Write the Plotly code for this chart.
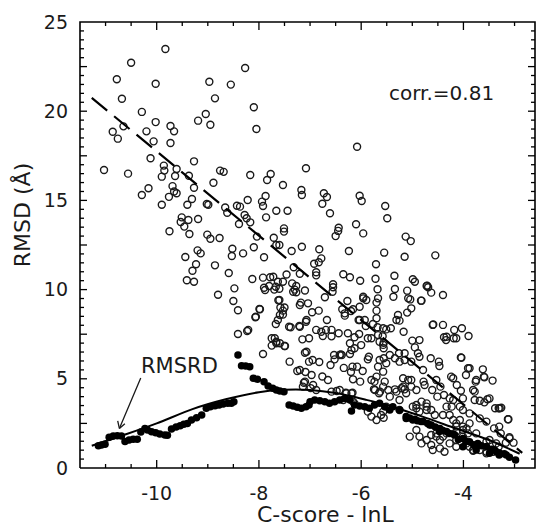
import plotly.graph_objects as go

# ---------------- data ----------------
circles_upper = [
    (-9.83, 23.49), (-10.50, 22.72), (-8.27, 22.42), (-10.78, 21.79), (-10.02, 21.54), (-8.97, 21.65),
    (-8.55, 21.49), (-10.68, 20.7), (-8.86, 20.72), (-8.10, 20.22), (-10.29, 19.96), (-9.04, 19.84),
    (-9.19, 19.47), (-8.95, 19.24), (-10.02, 19.39), (-10.65, 19.15), (-9.73, 19.17), (-9.66, 18.87),
    (-10.2, 18.87), (-10.86, 18.85), (-10.76, 18.46), (-10.06, 18.31), (-9.73, 18.22), (-8.05, 19.0),
    (-6.08, 18.01), (-10.12, 17.36), (-9.27, 17.19), (-11.03, 16.7), (-10.56, 16.5), (-9.86, 16.95),
    (-9.85, 16.67), (-9.61, 16.76), (-9.9, 16.33), (-9.64, 16.37), (-9.37, 16.38), (-8.76, 16.67),
    (-8.69, 16.6), (-8.89, 15.99), (-9.27, 15.71), (-9.69, 15.8), (-9.66, 15.5), (-9.61, 15.4),
    (-10.16, 15.68), (-10.29, 15.3), (-9.76, 15.2), (-9.31, 15.08), (-7.08, 16.8), (-8.17, 16.42),
    (-7.77, 16.48), (-7.84, 16.14), (-7.53, 15.86), (-7.17, 15.58), (-7.16, 15.3), (-6.73, 15.4),
    (-6.67, 15.19), (-6.76, 14.81), (-6.61, 14.28), (-6.03, 15.26), (-5.99, 14.97), (-5.53, 14.69),
    (-5.49, 14.0), (-8.22, 15.02), (-7.94, 14.93), (-7.92, 14.69), (-7.87, 15.25), (-8.37, 14.65),
    (-8.28, 14.18), (-8.24, 14.0), (-8.17, 13.77), (-7.86, 14.05), (-7.66, 14.42), (-7.44, 14.42),
    (-7.51, 13.43), (-6.44, 13.47), (-6.1, 13.66), (-9.9, 14.76), (-9.4, 14.76), (-8.99, 14.76),
    (-8.66, 14.6), (-8.62, 14.31), (-8.43, 14.7), (-9.51, 14.05), (-9.53, 13.79), (-9.46, 13.53),
    (-9.38, 13.9), (-9.19, 13.96), (-9.75, 13.27), (-9.36, 13.12), (-9.01, 13.08), (-8.95, 12.85),
    (-8.77, 12.89), (-8.39, 13.68), (-8.04, 12.97), (-7.71, 12.91), (-7.66, 12.5), (-7.6, 12.5),
    (-7.51, 13.25), (-6.5, 13.0), (-6.45, 13.29), (-5.96, 13.15), (-5.13, 12.97), (-5.03, 12.72),
    (-8.1, 12.37), (-7.36, 12.16), (-7.16, 12.4), (-6.82, 12.26), (-6.24, 12.16), (-5.55, 12.07),
    (-9.2, 12.2), (-9.14, 12.03), (-8.52, 12.29), (-9.02, 14.8),
]

circles_middle = [
    (-9.44, 11.83), (-8.53, 11.88), (-9.23, 11.42), (-8.86, 11.36), (-9.3, 11.06), (-8.59, 10.93),
    (-9.41, 10.52), (-9.27, 10.44), (-8.48, 10.07), (-8.8, 9.71), (-8.5, 9.36), (-8.41, 8.84),
    (-8.41, 7.51), (-8.23, 7.68), (-8.06, 8.48), (-7.98, 8.9), (-7.92, 6.39), (-7.75, 7.27),
    (-7.66, 7.08), (-7.59, 6.99), (-7.5, 6.84), (-7.62, 9.4), (-7.58, 9.0), (-7.53, 8.6),
    (-7.4, 5.96), (-7.2, 5.49), (-7.1, 4.84), (-7.07, 6.52), (-7.02, 5.96), (-7.21, 7.96),
    (-7.08, 8.2), (-7.15, 7.21), (-7.04, 9.23), (-7.9, 10.1), (-7.7, 10.0), (-7.6, 10.05),
    (-7.3, 10.0), (-7.1, 9.95), (-8.31, 12.03), (-7.9, 11.81), (-6.92, 11.45), (-6.83, 11.53),
    (-6.78, 11.75), (-7.32, 11.25), (-7.2, 10.89), (-7.46, 10.85), (-7.53, 10.44), (-7.63, 10.44),
    (-7.72, 10.72), (-6.88, 10.97), (-6.88, 10.8), (-6.35, 10.86), (-6.22, 10.69), (-6.02, 10.5),
    (-5.72, 10.61), (-5.71, 11.42), (-8.13, 10.59), (-7.92, 10.67), (-7.78, 10.69), (-7.88, 9.98),
    (-7.8, 10.2), (-7.67, 10.16), (-7.35, 10.35), (-7.27, 10.2), (-7.33, 9.88), (-7.27, 9.85),
    (-6.55, 10.3), (-6.55, 10.13), (-6.56, 9.88), (-6.71, 9.57), (-6.27, 9.36), (-5.96, 9.6),
    (-5.9, 9.42), (-5.7, 9.27), (-5.68, 10.02), (-7.6, 9.42), (-7.18, 9.27), (-7.2, 9.14),
    (-6.96, 8.73), (-6.83, 8.82), (-7.99, 8.91), (-8.07, 8.45), (-7.5, 9.0), (-7.53, 8.82),
    (-7.59, 8.58), (-7.63, 8.3), (-7.67, 8.07), (-6.37, 8.9), (-6.32, 8.54), (-6.2, 8.8),
    (-6.05, 8.3), (-5.93, 8.3), (-5.91, 7.96), (-5.7, 8.82), (-5.7, 8.39), (-5.68, 7.89),
    (-5.51, 7.77), (-5.77, 8.07), (-8.21, 7.74), (-7.41, 7.92), (-7.38, 7.89), (-7.2, 7.92),
    (-7.07, 8.3), (-6.67, 8.3), (-6.58, 7.74), (-6.88, 7.74), (-6.78, 7.64), (-6.69, 7.74),
    (-6.75, 7.4), (-6.58, 7.38), (-6.44, 7.55), (-6.26, 7.55), (-6.13, 7.33), (-6.04, 7.51),
    (-5.8, 7.27), (-5.58, 7.38), (-5.56, 7.02), (-5.56, 6.71), (-7.69, 7.27), (-7.66, 6.99),
    (-7.75, 6.86), (-7.49, 6.84), (-7.02, 7.27), (-6.22, 6.99), (-6.13, 6.71), (-6.0, 6.89),
    (-7.1, 6.46), (-6.53, 6.33), (-6.4, 6.37), (-6.22, 6.39), (-5.85, 6.24), (-5.56, 6.15),
    (-5.35, 10.78), (-4.99, 10.58), (-5.34, 10.03), (-5.37, 9.6), (-5.1, 9.94), (-4.71, 10.22),
    (-4.69, 10.13), (-4.63, 9.83), (-4.4, 9.7), (-5.04, 9.45), (-4.83, 9.38), (-5.02, 8.95),
    (-5.15, 11.84), (-4.55, 11.92), (-5.28, 8.58), (-5.31, 8.3), (-5.25, 8.26), (-5.1, 8.71),
    (-5.42, 7.83), (-5.17, 7.64), (-4.59, 8.05), (-4.38, 7.33), (-4.34, 7.17), (-4.18, 7.74),
    (-4.14, 7.27), (-3.9, 7.4), (-4.03, 7.83), (-5.0, 7.14), (-4.86, 7.17), (-4.95, 6.76),
    (-4.89, 6.43), (-4.86, 6.24), (-5.44, 6.33), (-5.26, 6.43), (-5.15, 6.43), (-5.34, 6.15),
    (-4.64, 6.15), (-4.04, 6.18), (-4.6, 8.02), (-4.4, 8.02), (-4.33, 7.36), (-4.19, 7.27),
    (-6.32, 8.67), (-6.16, 8.9), (-6.03, 9.04), (-5.96, 9.51), (-5.67, 9.51), (-5.08, 9.51),
    (-4.95, 10.44), (-4.72, 10.2), (-4.82, 9.38), (-6.03, 8.3), (-5.87, 7.27), (-5.67, 7.45),
    (-5.64, 7.08), (-5.57, 7.83), (-6.42, 6.33), (-6.38, 6.33),
]

circles_lower = [
    (-6.95, 6.05), (-6.82, 5.94), (-6.6, 5.77), (-6.52, 6.09), (-6.19, 6.61), (-5.87, 6.09),
    (-7.25, 5.44), (-7.09, 5.38), (-6.76, 5.13), (-6.34, 5.61), (-6.2, 5.38), (-6.17, 5.68),
    (-6.08, 5.68), (-5.97, 5.44), (-7.12, 4.78), (-6.99, 4.48), (-6.16, 4.97), (-6.02, 4.84),
    (-5.74, 4.84), (-5.54, 4.84), (-6.48, 4.32), (-6.3, 4.22), (-6.17, 4.22), (-5.75, 4.41),
    (-5.65, 4.19), (-5.56, 2.82), (-5.57, 3.16), (-5.51, 3.44), (-6.16, 3.72), (-5.67, 5.68),
    (-5.57, 5.4), (-5.51, 5.87), (-5.64, 6.05), (-5.57, 6.9), (-5.25, 5.96), (-5.15, 6.05),
    (-5.02, 5.96), (-4.48, 5.96), (-4.47, 5.72), (-4.79, 5.49), (-3.91, 5.59), (-3.95, 5.21),
    (-3.62, 5.53), (-3.6, 5.12), (-3.43, 4.9), (-3.76, 4.84), (-3.81, 4.37), (-4.53, 4.93),
    (-4.24, 5.12), (-4.2, 5.03), (-4.78, 4.84), (-4.76, 4.65), (-5.18, 5.03), (-5.08, 4.93),
    (-5.02, 4.93), (-5.21, 4.47), (-5.15, 4.41), (-5.34, 4.41), (-4.61, 4.37), (-4.45, 4.56),
    (-4.51, 4.0), (-4.38, 4.09), (-4.27, 3.9), (-4.2, 3.81), (-4.13, 4.65), (-4.05, 4.33),
    (-4.01, 3.9), (-3.68, 3.77), (-3.53, 3.85), (-3.38, 3.35), (-3.29, 3.35), (-3.12, 2.73),
    (-4.92, 3.53), (-4.92, 3.35), (-4.72, 3.44), (-4.72, 3.25), (-4.56, 2.97), (-4.4, 2.97),
    (-4.23, 3.44), (-4.07, 3.44), (-4.01, 3.25), (-3.88, 3.06), (-3.68, 2.78), (-3.55, 2.6),
    (-3.4, 2.22), (-3.3, 2.32), (-3.27, 1.94), (-3.1, 1.66), (-3.02, 1.42), (-4.27, 1.38),
    (-4.14, 1.57), (-3.88, 1.19), (-3.81, 0.97), (-3.55, 0.91), (-4.53, 1.94), (-4.4, 1.76),
    (-4.14, 2.32), (-4.01, 2.13), (-3.75, 1.94), (-3.49, 1.57), (-3.36, 1.38), (-4.05, 6.2),
    (-3.88, 5.59), (-3.75, 4.93), (-3.59, 5.08), (-3.78, 4.28), (-3.78, 3.81), (-3.59, 3.68),
    (-3.49, 3.9), (-3.31, 3.35), (-3.26, 3.38), (-3.13, 2.73), (-3.1, 1.72), (-3.17, 1.42),
    (-3.31, 1.19), (-3.55, 1.47), (-3.81, 1.01), (-3.68, 1.01), (-3.55, 0.82), (-3.42, 0.91),
    (-4.33, 3.44), (-4.27, 2.97), (-4.2, 2.69), (-4.14, 2.5), (-4.07, 2.69), (-4.01, 2.32),
    (-3.94, 2.22), (-3.88, 2.5), (-4.14, 2.04), (-4.01, 1.76), (-3.91, 1.94), (-4.33, 1.94),
    (-4.46, 1.57), (-4.14, 1.19), (-3.94, 1.38), (-4.92, 2.13), (-4.86, 1.76), (-4.72, 1.57),
    (-4.63, 1.85), (-4.53, 1.76), (-5.05, 1.76), (-4.82, 1.38), (-4.63, 1.29), (-4.46, 1.1),
    (-4.6, 1.01), (-4.37, 0.91), (-5.57, 4.56), (-5.47, 4.37), (-5.63, 4.28), (-5.73, 4.37),
    (-5.44, 4.0), (-5.25, 3.81), (-5.12, 4.19), (-5.31, 4.28), (-5.18, 4.56), (-5.02, 4.56),
    (-4.92, 4.37), (-4.82, 3.72), (-4.72, 3.62), (-4.63, 3.25), (-4.99, 3.44), (-4.86, 3.16),
    (-5.25, 3.25), (-5.8, 4.93), (-5.7, 5.12), (-5.8, 2.88), (-5.61, 2.97), (-6.97, 5.21),
    (-6.94, 4.65), (-7.14, 4.56), (-6.88, 4.37), (-6.65, 4.93), (-6.58, 4.28), (-6.42, 4.37),
    (-6.29, 4.19), (-6.19, 4.19), (-6.35, 3.81), (-6.13, 3.62), (-5.7, 2.69), (-5.87, 3.16),
]

rmsrd_points = [
    (-11.14, 1.25), (-11.08, 1.29), (-11.01, 1.33), (-10.93, 1.72), (-10.85, 1.79), (-10.77, 1.81),
    (-10.69, 1.79), (-10.62, 1.49), (-10.54, 1.57), (-10.46, 1.61), (-10.38, 1.61), (-10.31, 2.02),
    (-10.23, 2.22), (-10.18, 2.13), (-10.1, 2.03), (-10.02, 1.98), (-9.94, 1.91), (-9.84, 1.85),
    (-9.79, 1.83), (-9.71, 2.19), (-9.62, 2.3), (-9.54, 2.37), (-9.47, 2.45), (-9.4, 2.5),
    (-9.32, 2.69), (-9.22, 2.82), (-9.12, 2.97), (-9.03, 3.35), (-8.95, 3.44), (-8.86, 3.49),
    (-8.78, 3.53), (-8.7, 3.59), (-8.61, 3.63), (-8.54, 3.63), (-8.49, 3.72), (-8.41, 6.33),
    (-8.34, 5.73), (-8.26, 5.72), (-8.18, 5.68), (-8.11, 5.03), (-8.03, 4.97), (-7.9, 4.84),
    (-7.82, 4.6), (-7.73, 4.47), (-7.66, 4.37), (-7.59, 4.32), (-7.51, 4.28), (-7.41, 3.53),
    (-7.33, 3.48), (-7.25, 3.4), (-7.17, 3.35), (-7.08, 3.44), (-7.02, 3.53), (-7.0, 3.72),
    (-6.91, 3.81), (-6.81, 3.77), (-6.71, 3.72), (-6.62, 3.63), (-6.52, 3.72), (-6.42, 3.81),
    (-6.32, 3.89), (-6.22, 3.81), (-6.19, 3.2), (-6.13, 3.53), (-6.03, 3.48), (-5.93, 3.44),
    (-5.84, 3.35), (-5.74, 3.53), (-5.64, 3.63), (-5.54, 3.44), (-5.44, 3.25), (-5.38, 3.44),
    (-5.25, 3.25), (-5.12, 2.88), (-4.95, 2.73), (-4.79, 2.6), (-4.63, 2.41), (-4.46, 2.22),
    (-4.33, 2.04), (-4.17, 1.85), (-4.01, 1.66), (-3.88, 1.47), (-3.72, 1.38), (-3.55, 1.2),
    (-3.39, 1.01), (-3.29, 0.82), (-3.16, 0.73), (-2.98, 0.45), (-5.12, 2.78), (-4.99, 2.69),
    (-4.83, 2.6), (-4.66, 2.41), (-4.47, 2.04), (-4.27, 1.94), (-4.01, 1.19), (-3.75, 1.01),
    (-3.49, 0.82), (-3.3, 0.73), (-5.05, 2.8), (-4.9, 2.65), (-4.7, 2.5), (-4.55, 2.3),
    (-4.4, 2.1), (-4.2, 1.9), (-4.1, 1.6), (-3.95, 1.5), (-3.8, 1.3), (-3.65, 1.25),
    (-3.45, 1.05), (-3.35, 0.9), (-3.2, 0.8), (-3.1, 0.6),
]

fit_x = [-11.27, -2.85]
fit_y = [20.75, 0.85]

curve_x = [-11.27, -10.6, -10.0, -9.3, -8.65, -8.0, -7.5, -7.0, -6.5, -5.9, -5.5, -4.8, -4.15, -3.5, -2.9]
curve_y = [1.25, 1.89, 2.5, 3.3, 3.85, 4.25, 4.38, 4.37, 4.2, 3.82, 3.53, 2.88, 2.22, 1.57, 0.8]

x_frame = [-11.5, -2.6]
y_frame = [0, 25]
x_tick_vals = [-10, -8, -6, -4]
x_tick_text = ["-10", "-8", "-6", "-4"]
x_minor_vals = [-11, -10.5, -9.5, -9, -8.5, -7.5, -7, -6.5, -5.5, -5, -4.5, -3.5, -3]
y_tick_vals = [0, 2.5, 5, 7.5, 10, 12.5, 15, 17.5, 20, 22.5, 25]
y_tick_text = ["0", "", "5", "", "10", "", "15", "", "20", "", "25"]
y_minor_vals = [v / 2 for v in range(1, 50) if v % 5 != 0]

# ---------------- figure ----------------
FONT = "DejaVu Sans"
INK = "#1a1a1a"

# plot area = frame plus a small pad so the frame line is fully inside the clip region
W, H = 541, 529
L, R, T, B = 80, 6, 22, 61          # frame position in pixels
PAD = 3
px_x = (W - L - R) / (x_frame[1] - x_frame[0])   # pixels per x unit
px_y = (H - T - B) / (y_frame[1] - y_frame[0])   # pixels per y unit
x_range = [x_frame[0] - PAD / px_x, x_frame[1] + PAD / px_x]
y_range = [y_frame[0] - PAD / px_y, y_frame[1] + PAD / px_y]

circles = circles_upper + circles_middle + circles_lower
cx = [p[0] for p in circles]
cy = [p[1] for p in circles]
rx = [p[0] for p in rmsrd_points]
ry = [p[1] for p in rmsrd_points]

# frame and inside tick marks, built from the tick arrays
fx = [x_frame[0], x_frame[1], x_frame[1], x_frame[0], x_frame[0], None]
fy = [y_frame[0], y_frame[0], y_frame[1], y_frame[1], y_frame[0], None]
tx, ty = [], []
for vals, length in ((x_tick_vals, 8), (x_minor_vals, 4)):
    d = length / px_y
    for v in vals:
        tx += [v, v, None, v, v, None]
        ty += [y_frame[0], y_frame[0] + d, None, y_frame[1], y_frame[1] - d, None]
for vals, length in ((y_tick_vals[1:-1], 7), (y_minor_vals, 4)):
    d = length / px_x
    for v in vals:
        tx += [x_frame[0], x_frame[0] + d, None, x_frame[1], x_frame[1] - d, None]
        ty += [v, v, None, v, v, None]

fig = go.Figure()
fig.add_trace(go.Scatter(
    x=cx, y=cy, mode="markers",
    marker=dict(symbol="circle-open", size=7, color=INK, line=dict(width=1.4, color=INK)),
    showlegend=False, hoverinfo="skip"))
fig.add_trace(go.Scatter(
    x=rx, y=ry, mode="markers",
    marker=dict(symbol="circle", size=7.5, color="black"),
    showlegend=False, hoverinfo="skip"))
fig.add_trace(go.Scatter(
    x=fit_x, y=fit_y, mode="lines",
    line=dict(color="black", width=2.2, dash="20px,9px"),
    showlegend=False, hoverinfo="skip"))
fig.add_trace(go.Scatter(
    x=curve_x, y=curve_y, mode="lines",
    line=dict(color="black", width=2, shape="spline", smoothing=0.8),
    showlegend=False, hoverinfo="skip"))
fig.add_trace(go.Scatter(
    x=fx, y=fy, mode="lines", line=dict(color="black", width=1.6),
    showlegend=False, hoverinfo="skip"))
fig.add_trace(go.Scatter(
    x=tx, y=ty, mode="lines", line=dict(color="black", width=1.3),
    showlegend=False, hoverinfo="skip"))

fig.update_layout(
    xaxis=dict(
        range=x_range, tickmode="array", tickvals=x_tick_vals, ticktext=x_tick_text,
        showgrid=False, zeroline=False, showline=False, ticks="", ticklabelstandoff=12 - PAD,
        tickfont=dict(family=FONT, size=19, color=INK)),
    yaxis=dict(
        range=y_range, tickmode="array", tickvals=y_tick_vals, ticktext=y_tick_text,
        showgrid=False, zeroline=False, showline=False, ticks="", ticklabelstandoff=11 - PAD,
        tickfont=dict(family=FONT, size=19, color=INK)),
)


def seg(**kw):
    base = dict(text="", showarrow=True, arrowhead=0, standoff=0, startstandoff=0,
                arrowcolor=INK, arrowwidth=1.3)
    base.update(kw)
    return base


annotations = [
    dict(text="C-score - lnL", xref="paper", yref="paper", x=0.538, y=0,
         xanchor="center", yanchor="middle", yshift=-43, showarrow=False,
         font=dict(family=FONT, size=22, color=INK)),
    dict(text="RMSD (Å)", xref="paper", yref="paper", x=-0.1193, y=0.566, xanchor="center",
         yanchor="middle", textangle=-90, showarrow=False,
         font=dict(family=FONT, size=22, color=INK)),
    dict(text="corr.=0.81", xref="paper", yref="paper", x=0.79, y=0.836,
         xanchor="center", yanchor="middle", showarrow=False,
         font=dict(family=FONT, size=20, color=INK)),
    dict(text="RMSRD", x=-9.546, y=5.72, xanchor="center", yanchor="middle",
         showarrow=False, font=dict(family=FONT, size=21, color=INK)),
    # arrow shaft and open head
    seg(x=-10.73, y=2.22, ax=22, ay=-52),
    seg(x=-10.73, y=2.22, ax=7, ay=-6),
    seg(x=-10.73, y=2.22, ax=-2, ay=-9),
]

fig.update_layout(
    width=W, height=H,
    margin=dict(l=L - PAD, r=R - PAD, t=T - PAD, b=B - PAD),
    paper_bgcolor="white", plot_bgcolor="white",
    annotations=annotations,
    showlegend=False,
)

fig.write_html("out.html", config={"displayModeBar": False},
               post_script="document.body.style.margin='0';document.body.style.overflow='hidden';")
